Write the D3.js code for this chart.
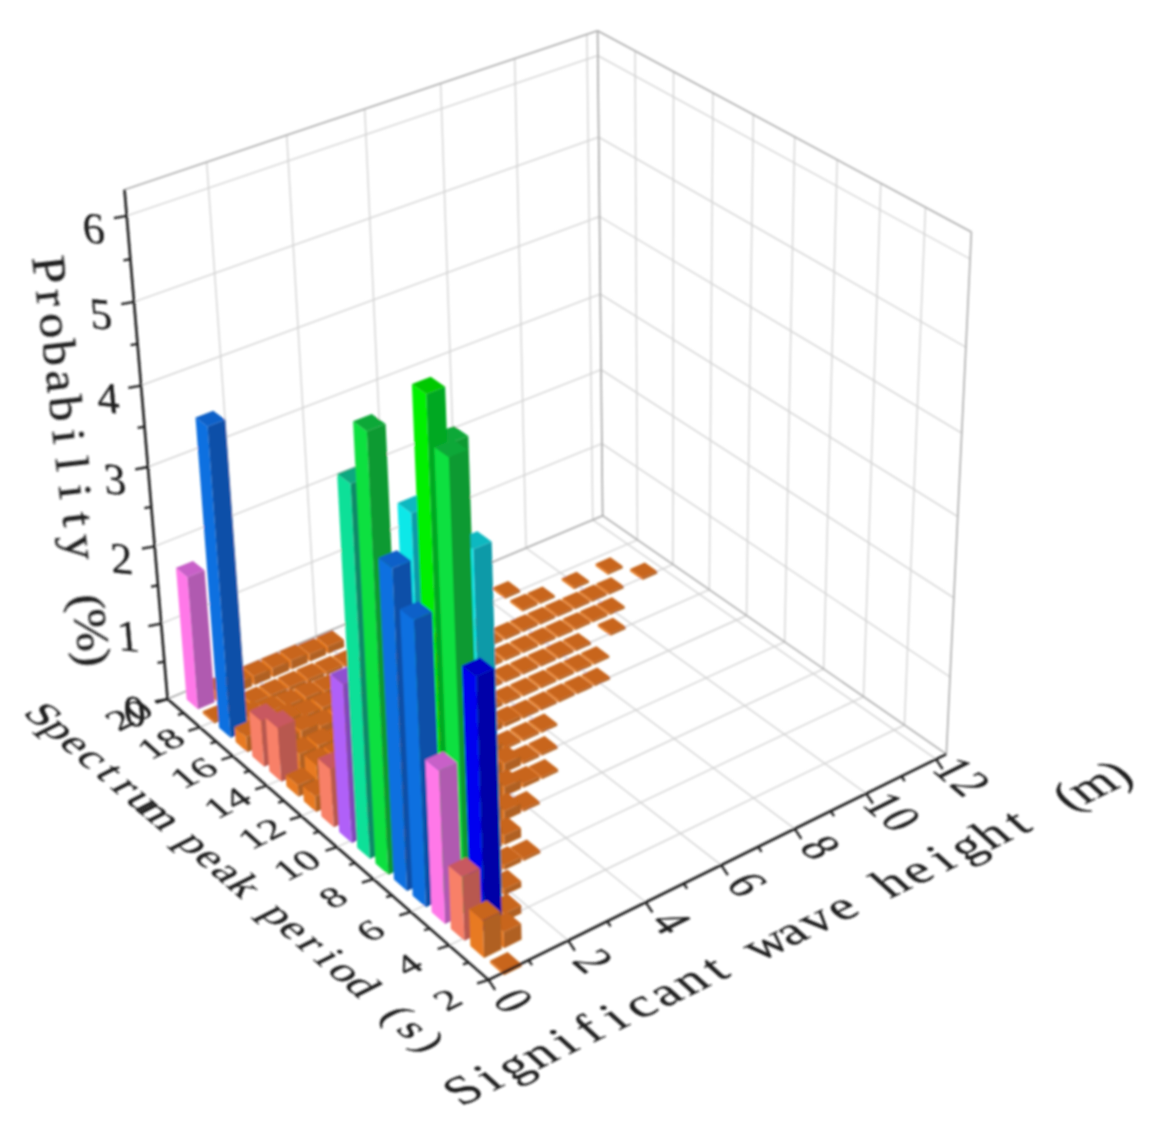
<!DOCTYPE html>
<html><head><meta charset="utf-8">
<script src="https://cdn.jsdelivr.net/npm/d3@7"></script>
<style>html,body{margin:0;background:#fff}svg{display:block}</style></head>
<body><svg id="c" width="1154" height="1148"></svg>
<script>
// ---------- data ----------
const hsTicks=[0,2,4,6,8,10,12], periodTicks=[2,4,6,8,10,12,14,16,18,20], probTicks=[0,1,2,3,4,5,6];
const hsStart=0.5, hsStep=0.5;
const t02=[.03];
const t03=[.47,.2];
const t04=[.8,3.1,.1];
const t05=[1.9,5.4,4.28,.08];
const t06=[3.5,5.93,5.3,.15,.06,.03];
const t07=[3.92,4.45,.4,.3,.25,.12];
const t08=[5.3,.45,.4,.3,.25,.2,.12,.03];
const t09=[4.55,.45,.4,.35,.3,.25,.2,.12,.05,.03];
const t10=[2.0,.4,.4,.35,.3,.25,.2,.15,.12,.03,.03];
const t11=[.75,.4,.35,.3,.3,.25,.2,.15,.1,.03,.03,.03];
const t12=[.2,.3,.3,.25,.25,.2,.2,.15,.1,.08,.05,.03,.03,.03,.03,.03];
const t13=[.15,.3,.3,.25,.2,.2,.15,.15,.1,.08,.05,.03,.03,.03,.03,.03,.03];
const t14=[.7,.25,.25,.2,.2,.15,.15,.1,.1,.05,.05,.03,.03,.03,.03,.03,.03,0,.03];
const t15=[.6,.25,.25,.2,.2,.15,.1,.1,.08,.05,.05,.03,.03,.03,.03,.03,.03,.03,.03,.03];
const t16=[.2,.2,.2,.15,.15,.1,.1,.08,.05,.05,.03,.03,.03,.03,.03,.03,.03,.03,.03,.03,.03,0,.03];
const t17=[3.93,.15,.12,.1,.1,.08,.05,.05,.03,.03,.03,.03,.03,.03,0,0,.03,.03,0,.03,0,.03];
const t18=[.03,.06,.05,.05,.05,.05,.04,.03,0,0,0,0,0,0,0,0,.03];
const t19=[1.73,.13,.13,.12,.12,.12,.1,.1];
const rows=[[2,t02],[3,t03],[4,t04],[5,t05],[6,t06],[7,t07],[8,t08],[9,t09],[10,t10],[11,t11],[12,t12],[13,t13],[14,t14],[15,t15],[16,t16],[17,t17],[18,t18],[19,t19]];
const levels=[.5,1,1.95,2.5,3.2,4,4.5,4.9,5.6];
const faceLeft =["#e87a20","#f88068","#ff78e8","#b060f8","#0000f0","#1070e0","#10e8e8","#10e098","#10e040","#00f000"];
const faceRight=["#b06020","#b85850","#b05ab0","#8048b8","#0000a8","#1050a8","#109aa8","#108a68","#0a9a30","#00a820"];
const faceTop  =["#c8651a","#c85860","#c860c8","#9050d0","#0000c8","#1060c8","#10b8c0","#10a880","#0aa838","#00c800"];

// ---------- projection ----------
const hsMax=12.3, probMax=6.3;
const sx=d3.scaleLinear().domain([0,hsMax]).range([0,1]);
const sy=d3.scaleLinear().domain([2,20]).range([0,1]);
const sz=d3.scaleLinear().domain([0,probMax]).range([0,1]);
const anchors=[
 [0,2,0,490,983],[0,20,0,170,698],[hsMax,20,0,600,518],[hsMax,2,0,950,752],
 [0,20,probMax,125,191],[hsMax,20,probMax,600,30],[hsMax,2,probMax,970,233],
 [0,10,0,338,846],[4,2,0,643,902],[8,2,0,793,828],
 [0,20,1,161,625],[0,20,3,146,465],[0,20,5,133,301]];
function solve(A,b){const n=b.length;A=A.map((r,i)=>[...r,b[i]]);
 for(let i=0;i<n;i++){let p=i;for(let j=i+1;j<n;j++)if(Math.abs(A[j][i])>Math.abs(A[p][i]))p=j;[A[i],A[p]]=[A[p],A[i]];
  for(let j=0;j<n;j++){if(j==i)continue;const f=A[j][i]/A[i][i];for(let k=i;k<=n;k++)A[j][k]-=f*A[i][k];}}
 return A.map((r,i)=>r[n]/r[i]);}
const P=(()=>{const M=[],v=[];anchors.forEach(([h,t,z,u,w])=>{const X=sx(h),Y=sy(t),Z=sz(z);u/=1000;w/=1000;
 M.push([X,Y,Z,1,0,0,0,0,-u*X,-u*Y,-u*Z]);v.push(u);M.push([0,0,0,0,X,Y,Z,1,-w*X,-w*Y,-w*Z]);v.push(w);});
 const N=d3.range(11).map(i=>d3.range(11).map(j=>d3.sum(M,r=>r[i]*r[j])));const y=d3.range(11).map(i=>d3.sum(M,(r,k)=>r[i]*v[k]));return solve(N,y);})();
function pr(h,t,z){const X=sx(h),Y=sy(t),Z=sz(z),d=P[8]*X+P[9]*Y+P[10]*Z+1;
 return [1000*(P[0]*X+P[1]*Y+P[2]*Z+P[3])/d,1000*(P[4]*X+P[5]*Y+P[6]*Z+P[7])/d];}

// ---------- drawing ----------
const svg=d3.select("#c");
const defs=svg.append("defs");
defs.append("filter").attr("id","soft").attr("filterUnits","userSpaceOnUse").attr("x",0).attr("y",0).attr("width",1154).attr("height",1148)
 .append("feGaussianBlur").attr("stdDeviation",1.05);
const g=svg.append("g").attr("filter","url(#soft)");
const line=d3.line();
function seg(a,b,col,w){g.append("path").attr("d",line([a,b])).attr("stroke",col).attr("stroke-width",w).attr("fill","none");}
const gridCol="#d4d4d4", edge="#adadad";
hsTicks.forEach(h=>{seg(pr(h,2,0),pr(h,20,0),gridCol,1.4);if(h>0)seg(pr(h,20,0),pr(h,20,probMax),gridCol,1.4);});
periodTicks.forEach(t=>{seg(pr(0,t,0),pr(hsMax,t,0),gridCol,1.4);if(t>2)seg(pr(hsMax,t,0),pr(hsMax,t,probMax),gridCol,1.4);});
probTicks.slice(1).forEach(z=>{seg(pr(0,20,z),pr(hsMax,20,z),gridCol,1.4);seg(pr(hsMax,20,z),pr(hsMax,2,z),gridCol,1.4);});
seg(pr(0,20,probMax),pr(hsMax,20,probMax),edge,1.6);seg(pr(hsMax,20,probMax),pr(hsMax,2,probMax),edge,1.6);
seg(pr(hsMax,20,0),pr(hsMax,20,probMax),edge,1.6);seg(pr(hsMax,2,0),pr(hsMax,2,probMax),edge,1.6);
seg(pr(0,20,0),pr(hsMax,20,0),edge,1.6);seg(pr(hsMax,20,0),pr(hsMax,2,0),edge,1.6);

// bars
const colour=d3.scaleThreshold().domain(levels).range(d3.range(10));
const halfH=0.22, halfT=0.35, tShift=0.24, hShift=0.05;
const bars=[];
rows.forEach(([t,vals])=>vals.forEach((v,i)=>{if(v>0)bars.push({h:hsStart+i*hsStep,t,v});}));
bars.sort((a,b)=>d3.descending(a.t,b.t)||d3.descending(a.h,b.h));
const poly=pts=>"M"+pts.map(p=>p.join(",")).join("L")+"Z";
const gb=g.append("g");
bars.forEach(b=>{const x0=b.h+hShift-halfH,x1=b.h+hShift+halfH,y0=b.t+tShift-halfT,y1=b.t+tShift+halfT,k=colour(b.v);
 gb.append("path").attr("d",poly([pr(x0,y0,0),pr(x0,y1,0),pr(x0,y1,b.v),pr(x0,y0,b.v)])).attr("fill",faceLeft[k]);
 gb.append("path").attr("d",poly([pr(x0,y0,0),pr(x1,y0,0),pr(x1,y0,b.v),pr(x0,y0,b.v)])).attr("fill",faceRight[k]);
 gb.append("path").attr("d",poly([pr(x0,y0,b.v),pr(x1,y0,b.v),pr(x1,y1,b.v),pr(x0,y1,b.v)])).attr("fill",faceTop[k]);
});

// axes
const ink="#1c1c1c";
seg(pr(0,2,0),pr(0,20,0),ink,2.6);seg(pr(0,2,0),pr(hsMax,2,0),ink,2.6);seg(pr(0,20,0),pr(0,20,probMax),ink,2.6);
function tick(p,d,len){seg(p,[p[0]+d[0]*len,p[1]+d[1]*len],ink,2.3);}
d3.range(2,20.01,1).forEach(t=>tick(pr(0,t,0),[-.95,.3],t%2==0?12:6));
d3.range(0,12.01,1).forEach(h=>tick(pr(h,2,0),[.55,.83],h%2==0?12:6));
d3.range(0,6.01,.5).forEach(z=>tick(pr(0,20,z),[-.98,.18],z%1==0?13:7));

// text
const face="Liberation Serif";
const ctx=document.createElement("canvas").getContext("2d");
function label(str,c,ex,eu,size,adv,stretch){
 ctx.font=size+"px '"+face+"'";
 const n=str.length,a=adv/stretch,start=-(n-1)*a/2;
 const xs=Array.from(str).map((ch,i)=>(start+i*a-ctx.measureText(ch).width/2).toFixed(1));
 g.append("text").attr("transform",`matrix(${ex[0]*stretch},${ex[1]*stretch},${-eu[0]},${-eu[1]},${c[0]},${c[1]})`)
  .attr("x",xs.join(" ")).attr("y",(size*.32).toFixed(1)).attr("font-family",face).attr("font-size",size)
  .attr("fill","#1c1c1c").attr("stroke","#1c1c1c").attr("stroke-width",.3).attr("xml:space","preserve").text(str);
}
const tEx=[.76,.65], tUp=[.89,-.45], hEx=[.9,-.44], hUp=[-.74,-.67];
periodTicks.forEach(t=>label(String(t),pr(-1,t,0),hEx,hUp,34,21,1.2));
hsTicks.forEach(h=>{const p=pr(h,.8,0);label(String(h),p,tEx,tUp,50,23,.85);});
probTicks.forEach(z=>{const p=pr(0,20,z);label(String(z),[p[0]-33,p[1]+13],[.995,.1],[-.09,-1],44,20,1);});
function title(str,a,b,eu,size,st){const n=str.length,dx=b[0]-a[0],dy=b[1]-a[1],L=Math.hypot(dx,dy);
 label(str,[(a[0]+b[0])/2,(a[1]+b[1])/2],[dx/L,dy/L],eu,size,L/(n-1),st);}
title("Spectrum peak period (s)",[43,715],[430,1043],tUp,42,1.05);
title("Significant wave height (m)",[463,1090],[1117,773],hUp,48,1.1);
title("Probability (%)",[48,270],[93,658],[.985,-.11],46,1.1);
</script></body></html>
